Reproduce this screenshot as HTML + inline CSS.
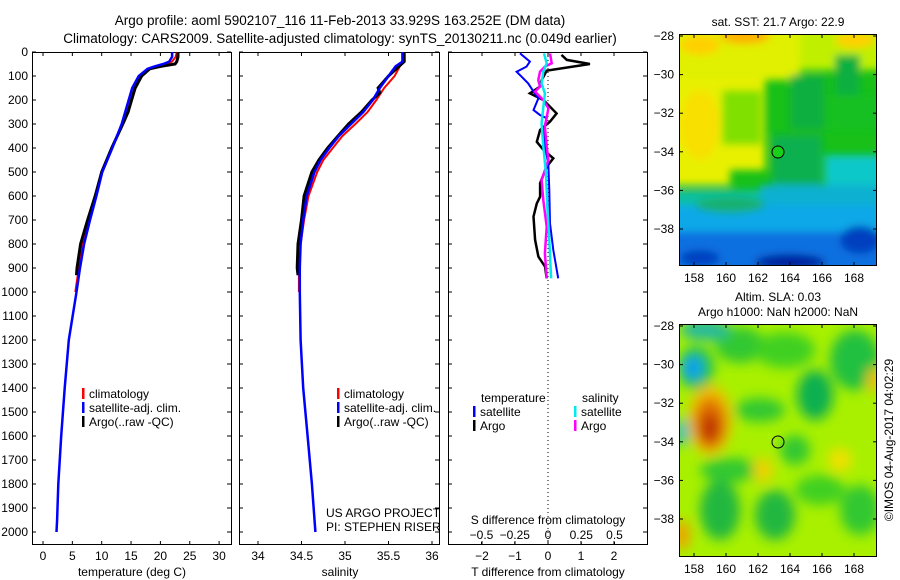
<!DOCTYPE html>
<html><head><meta charset="utf-8"><style>
html,body{margin:0;padding:0;background:#fff;}
svg{display:block;font-family:"Liberation Sans",sans-serif;}
text{fill:#000;}
</style></head><body>
<svg id="fig" width="900" height="580" viewBox="0 0 900 580" xmlns="http://www.w3.org/2000/svg">
<defs>
<filter id="blur1" x="-20%" y="-20%" width="140%" height="140%"><feGaussianBlur stdDeviation="4"/></filter>
<filter id="blur2" x="-20%" y="-20%" width="140%" height="140%"><feGaussianBlur stdDeviation="6"/></filter>
<clipPath id="clipM1"><rect x="679" y="34" width="198" height="232"/></clipPath>
<clipPath id="clipM2"><rect x="679" y="324" width="198" height="233"/></clipPath>
</defs>
<text x="340" y="25" font-size="13.5" text-anchor="middle">Argo profile: aoml 5902107_116 11-Feb-2013 33.929S 163.252E (DM data)</text>
<text x="340" y="43" font-size="13.5" text-anchor="middle">Climatology: CARS2009. Satellite-adjusted climatology: synTS_20130211.nc (0.049d earlier)</text>

<!-- SST map -->
<g>
<g clip-path="url(#clipM1)">
<rect x="679" y="34" width="198" height="232" fill="#18c018"/>
<g filter="url(#blur1)">
<rect x="660" y="20" width="240" height="50" fill="#c0f000"/>
<rect x="660" y="20" width="105" height="150" fill="#e8f000"/>
<rect x="660" y="20" width="140" height="60" fill="#e0f000"/>
<rect x="660" y="160" width="70" height="25" fill="#e8f000"/>
<ellipse cx="700" cy="125" rx="20" ry="35" fill="#f8e000"/>
<ellipse cx="745" cy="36" rx="25" ry="8" fill="#ffb000"/>
<ellipse cx="700" cy="45" rx="20" ry="10" fill="#ffd000"/>
<ellipse cx="855" cy="40" rx="20" ry="8" fill="#ffd000"/>
<rect x="722" y="90" width="40" height="55" fill="#80e000"/>
<rect x="790" y="75" width="35" height="55" fill="#10b040"/>
<rect x="830" y="95" width="50" height="35" fill="#18c020"/>
<rect x="835" y="55" width="25" height="40" fill="#10b040"/>
<rect x="772" y="135" width="50" height="55" fill="#10b050"/>
<rect x="825" y="155" width="60" height="45" fill="#10c8c8"/>
<rect x="660" y="190" width="240" height="20" fill="#10c0a0"/>
<rect x="660" y="205" width="240" height="30" fill="#10a8e8"/>
<rect x="760" y="185" width="140" height="20" fill="#10b0d0"/>
<rect x="660" y="232" width="240" height="40" fill="#1070e0"/>
<ellipse cx="790" cy="262" rx="35" ry="8" fill="#0020a0"/>
<ellipse cx="860" cy="240" rx="20" ry="14" fill="#0040c0"/>
<ellipse cx="700" cy="258" rx="20" ry="8" fill="#0040c0"/>
<ellipse cx="730" cy="205" rx="35" ry="8" fill="#18b070"/>
</g>
</g>
<circle cx="778" cy="152" r="6" fill="#18d018" stroke="#000" stroke-width="1"/>
<rect x="679.5" y="34.5" width="197" height="231" fill="none" stroke="#000"/>
<text x="778" y="26" font-size="12" text-anchor="middle">sat. SST: 21.7 Argo: 22.9</text>
<g id="m1ticks"></g>
</g>

<!-- SLA map -->
<g>
<g clip-path="url(#clipM2)">
<rect x="679" y="324" width="198" height="233" fill="#a8f000"/>
<g filter="url(#blur2)">
<ellipse cx="740" cy="345" rx="25" ry="18" fill="#30c830"/>
<ellipse cx="705" cy="330" rx="25" ry="10" fill="#20b8a0"/>
<ellipse cx="696" cy="368" rx="18" ry="22" fill="#20c050"/>
<ellipse cx="693" cy="368" rx="10" ry="12" fill="#10a0f0"/>
<ellipse cx="682" cy="432" rx="7" ry="14" fill="#10c0c0"/>
<ellipse cx="710" cy="420" rx="22" ry="35" fill="#f0c000"/>
<ellipse cx="710" cy="423" rx="16" ry="26" fill="#e07000"/>
<ellipse cx="710" cy="428" rx="10" ry="15" fill="#c03800"/>
<ellipse cx="785" cy="350" rx="30" ry="18" fill="#40d020"/>
<ellipse cx="815" cy="395" rx="18" ry="25" fill="#10b050"/>
<ellipse cx="855" cy="360" rx="25" ry="30" fill="#20c040"/>
<ellipse cx="760" cy="410" rx="25" ry="12" fill="#30c830"/>
<ellipse cx="795" cy="450" rx="15" ry="15" fill="#30c830"/>
<ellipse cx="730" cy="470" rx="30" ry="12" fill="#30c830"/>
<ellipse cx="720" cy="510" rx="20" ry="30" fill="#20b840"/>
<ellipse cx="775" cy="515" rx="20" ry="25" fill="#20b840"/>
<ellipse cx="820" cy="490" rx="25" ry="15" fill="#40d020"/>
<ellipse cx="860" cy="510" rx="20" ry="25" fill="#30c830"/>
<ellipse cx="763" cy="470" rx="10" ry="12" fill="#f0d000"/>
<ellipse cx="682" cy="535" rx="8" ry="15" fill="#f0a000"/>
<ellipse cx="875" cy="380" rx="8" ry="12" fill="#f0c000"/>
<ellipse cx="840" cy="460" rx="12" ry="12" fill="#f0e000"/>
</g>
</g>
<circle cx="778" cy="442" r="6" fill="none" stroke="#000" stroke-width="1"/>
<rect x="679.5" y="324.5" width="197" height="232" fill="none" stroke="#000"/>
<text x="778" y="301" font-size="12" text-anchor="middle">Altim. SLA: 0.03</text>
<text x="778" y="316" font-size="12" text-anchor="middle">Argo h1000: NaN h2000: NaN</text>
<g id="m2ticks"></g>
</g>
<text transform="translate(893,440) rotate(-90)" font-size="12" text-anchor="middle">©IMOS 04-Aug-2017 04:02:29</text>

<g id="p1"></g>
<g id="p2"></g>
<g id="p3"></g>
</svg>
<script>
// ---- Temperature profiles ----
const tDepthClim = [0,20,40,50,60,70,100,150,200,250,300,400,500,600,700,800,900,1000];
const tClim = [22.8,22.6,22,21,19,18,16.5,15.6,15,14.4,13.5,11.8,10.1,9,7.8,6.8,6.1,5.5];
const tDepthSat = [0,20,40,50,60,70,100,150,200,250,300,400,500,600,700,800,900,1000,1200,1400,1600,1800,1950,2000];
const tSat = [22.0,22.0,21.5,20.5,19,17.8,16.3,15.2,14.6,14.0,13.4,11.8,10.1,9.1,8.0,7.0,6.3,5.7,4.4,3.7,3.1,2.6,2.4,2.3];
const tDepthArgo = [0,20,40,50,60,70,100,150,200,250,300,400,500,600,700,800,900,930];
const tArgo = [23,23,22.8,22.5,20,18.2,16.8,15.7,15.1,14.5,13.6,11.7,10,8.9,7.6,6.4,5.8,5.7];
// ---- Salinity profiles ----
const sDepthClim = [0,40,60,100,150,200,250,300,350,400,450,500,600,700,800,900,1000];
const sClim = [35.67,35.67,35.63,35.57,35.45,35.36,35.26,35.12,34.97,34.86,34.75,34.68,34.58,34.53,34.49,34.47,34.47];
const sDepthSat = [0,40,60,100,150,200,250,300,350,400,450,500,600,700,800,900,1000,1200,1400,1600,1800,2000];
const sSat = [35.66,35.66,35.58,35.50,35.40,35.32,35.21,35.07,34.93,34.82,34.72,34.65,34.56,34.52,34.49,34.48,34.48,34.49,34.52,34.57,34.62,34.66];
const sDepthArgo = [0,40,60,100,150,170,200,250,300,350,400,450,500,600,700,800,900,930];
const sArgo = [35.68,35.68,35.62,35.50,35.38,35.40,35.31,35.19,35.04,34.92,34.80,34.70,34.62,34.53,34.50,34.46,34.45,34.46];
// ---- Differences ----
const dDepthTArgo = [12,33,50,78,117,144,172,200,256,290,325,374,408,443,478,547,603,631,686,783,853,894,943];
const dTArgo = [0.41,0.57,1.27,-0.04,-0.19,-0.24,-0.55,-0.14,0.26,0.06,-0.24,-0.34,-0.14,0.16,-0.04,-0.24,-0.24,-0.34,-0.44,-0.39,-0.29,-0.09,-0.04];
const dDepthTSat = [6,40,61,82,103,131,165,193,242,263,276,325,394,464,575,714,825,943];
const dTSat = [-0.85,-0.55,-0.65,-0.95,-0.8,-0.6,-0.44,-0.29,-0.44,-0.24,-0.04,-0.14,-0.09,0.01,0.04,0.06,0.16,0.31];
const dDepthSArgo = [6,47,61,82,117,144,165,200,235,311,394,450,533,617,728,839,943];
const dSArgo = [0.015,0.028,-0.023,-0.06,-0.073,-0.06,-0.098,-0.035,0.003,-0.023,-0.01,0.003,-0.048,-0.035,-0.01,-0.023,-0.01];
const dDepthSSat = [6,47,82,131,172,297,394,506,644,783,943];
const dSSat = [-0.03,-0.01,-0.035,-0.048,-0.023,-0.048,-0.035,-0.015,-0.005,0.01,0.023];
// ---- Ticks ----
const depthTicks = [0,100,200,300,400,500,600,700,800,900,1000,1100,1200,1300,1400,1500,1600,1700,1800,1900,2000];
const tTicks = [0,5,10,15,20,25,30];
const sTicks = [34,34.5,35,35.5,36];
const sTickLabels = ['34','34.5','35','35.5','36'];
const dTTicks = [-2,-1,0,1,2];
const dSTicks = [-0.5,-0.25,0,0.25,0.5];
const dSTickLabels = ['\u22120.5','\u22120.25','0','0.25','0.5'];
const dTTickLabels = ['\u22122','\u22121','0','1','2'];
const latTicks = [-28,-30,-32,-34,-36,-38];
const lonTicks = [158,160,162,164,166,168];

const NS='http://www.w3.org/2000/svg';
function mk(tag, attrs, parent){const e=document.createElementNS(NS,tag);for(const k in attrs)e.setAttribute(k,attrs[k]);parent.appendChild(e);return e;}
const yD = d => 52 + d*0.24;
const PTOP=52, PBOT=545;

function panelFrame(g, x0, x1, name){
  const r = mk('rect',{x:x0+0.5,y:PTOP+0.5,width:x1-x0-1,height:PBOT-PTOP-1,fill:'none',stroke:'#000'},g);
  
  
}
function line(g, xs, ds, xf, color, w, name){
  const pts = xs.map((v,i)=>xf(v).toFixed(1)+','+yD(ds[i]).toFixed(1)).join(' ');
  const p = mk('polyline',{points:pts,fill:'none',stroke:color,'stroke-width':w,'stroke-linejoin':'miter'},g);
  
  
}
function xTicks(g, vals, labels, xf, y, name){
  vals.forEach((v,i)=>{
    const x=xf(v);
    mk('line',{x1:x,y1:PBOT,x2:x,y2:PBOT-4,stroke:'#000'},g);
    mk('line',{x1:x,y1:PTOP,x2:x,y2:PTOP+4,stroke:'#000'},g);
    const t=mk('text',{x:x,y:y,'font-size':12,'text-anchor':'middle'},g);
    t.textContent=labels[i];
    
    
  });
}
function yTicks(g, x0, x1, labels){
  depthTicks.forEach(d=>{
    const y=yD(d);
    mk('line',{x1:x0,y1:y,x2:x0+4,y2:y,stroke:'#000'},g);
    mk('line',{x1:x1,y1:y,x2:x1-4,y2:y,stroke:'#000'},g);
    if(labels){
      const t=mk('text',{x:x0-4,y:y+4,'font-size':12,'text-anchor':'end'},g);
      t.textContent=d;
      
      
    }
  });
}
function legendEntry(g,x,y,color,label,name){
  mk('rect',{x:x,y:y-10,width:2.5,height:11,fill:color},g);
  const t=mk('text',{x:x+7,y:y,'font-size':12},g);
  t.textContent=label;
  
  
}
function text(g,x,y,s,anchor,name,size){
  const t=mk('text',{x:x,y:y,'font-size':size||12,'text-anchor':anchor||'start'},g);
  t.textContent=s;
  
  
}

// Panel 1: temperature
const g1=document.getElementById('p1');
const xT = v => 43 + v*5.87;
panelFrame(g1,32,232,'temperature-panel');
yTicks(g1,32,231,true);
xTicks(g1,tTicks,tTicks.map(String),xT,560,'temperature');
line(g1,tClim,tDepthClim,xT,'#ff0000',2,'temperature-climatology-line');
line(g1,tArgo,tDepthArgo,xT,'#000000',3,'temperature-argo-line');
line(g1,tSat,tDepthSat,xT,'#0000ff',2.5,'temperature-satellite-line');
text(g1,132,576,'temperature (deg C)','middle','temperature-axis-title');
legendEntry(g1,82,398,'#ff0000','climatology','legend-climatology');
legendEntry(g1,82,412,'#0000ff','satellite-adj. clim.','legend-satellite');
legendEntry(g1,82,426,'#000000','Argo(..raw -QC)','legend-argo');

// Panel 2: salinity
const g2=document.getElementById('p2');
const xS = v => 258 + (v-34)*87;
panelFrame(g2,239,440,'salinity-panel');
yTicks(g2,239,439,false);
xTicks(g2,sTicks,sTickLabels,xS,560,'salinity');
line(g2,sClim,sDepthClim,xS,'#ff0000',2,'salinity-climatology-line');
line(g2,sArgo,sDepthArgo,xS,'#000000',3,'salinity-argo-line');
line(g2,sSat,sDepthSat,xS,'#0000ff',2.5,'salinity-satellite-line');
text(g2,340,576,'salinity','middle','salinity-axis-title');
legendEntry(g2,337,398,'#ff0000','climatology','legend-climatology-2');
legendEntry(g2,337,412,'#0000ff','satellite-adj. clim.','legend-satellite-2');
legendEntry(g2,337,426,'#000000','Argo(..raw -QC)','legend-argo-2');
text(g2,326,517,'US ARGO PROJECT','start','project-label');
text(g2,326,531,'PI: STEPHEN RISER','start','pi-label');

// Panel 3: differences
const g3=document.getElementById('p3');
const xDT = v => 548 + v*33;
const xDS = v => 548 + v*133;
panelFrame(g3,448,648,'difference-panel');
yTicks(g3,448,647,false);
mk('line',{x1:548,y1:PTOP,x2:548,y2:PBOT,stroke:'#000','stroke-dasharray':'1,3'},g3);
xTicks(g3,dTTicks,dTTickLabels,xDT,560,'t-difference');
dSTicks.forEach((v,i)=>{
  const x=xDS(v);
  mk('line',{x1:x,y1:PBOT,x2:x,y2:PBOT-3,stroke:'#000'},g3);
  text(g3,x,539,dSTickLabels[i],'middle','s-difference-tick-label');
});
text(g3,548,524,'S difference from climatology','middle','s-difference-axis-title');
text(g3,548,576,'T difference from climatology','middle','t-difference-axis-title');
line(g3,dTArgo,dDepthTArgo,xDT,'#000000',2.5,'t-diff-argo-line');
line(g3,dTSat,dDepthTSat,xDT,'#0000ff',2,'t-diff-satellite-line');
line(g3,dSArgo,dDepthSArgo,xDS,'#ff00ff',2.5,'s-diff-argo-line');
line(g3,dSSat,dDepthSSat,xDS,'#00e8f0',2.5,'s-diff-satellite-line');
text(g3,481,402,'temperature','start','legend-temperature-heading');
legendEntry(g3,473,416,'#0000ff','satellite','legend-t-satellite');
legendEntry(g3,473,430,'#000000','Argo','legend-t-argo');
text(g3,582,402,'salinity','start','legend-salinity-heading');
legendEntry(g3,574,416,'#00e8f0','satellite','legend-s-satellite');
legendEntry(g3,574,430,'#ff00ff','Argo','legend-s-argo');

// Map ticks
function mapTicks(id, top, bot, lat0y){
  const g=document.getElementById(id);
  const lx = v => 694 + (v-158)*16;
  const ly = v => lat0y + (-28 - v)*19.3;
  latTicks.forEach(v=>{
    const y=ly(v);
    mk('line',{x1:679,y1:y,x2:683,y2:y,stroke:'#000'},g);
    mk('line',{x1:877,y1:y,x2:873,y2:y,stroke:'#000'},g);
    text(g,674,y+4,'\u2212'+Math.abs(v),'end','map-lat-tick-label');
  });
  lonTicks.forEach(v=>{
    const x=lx(v);
    mk('line',{x1:x,y1:top,x2:x,y2:top+4,stroke:'#000'},g);
    mk('line',{x1:x,y1:bot,x2:x,y2:bot-4,stroke:'#000'},g);
    text(g,x,bot+16,String(v),'middle','map-lon-tick-label');
  });
}
mapTicks('m1ticks',34,266,36);
mapTicks('m2ticks',324,557,326);
</script>
</body></html>
